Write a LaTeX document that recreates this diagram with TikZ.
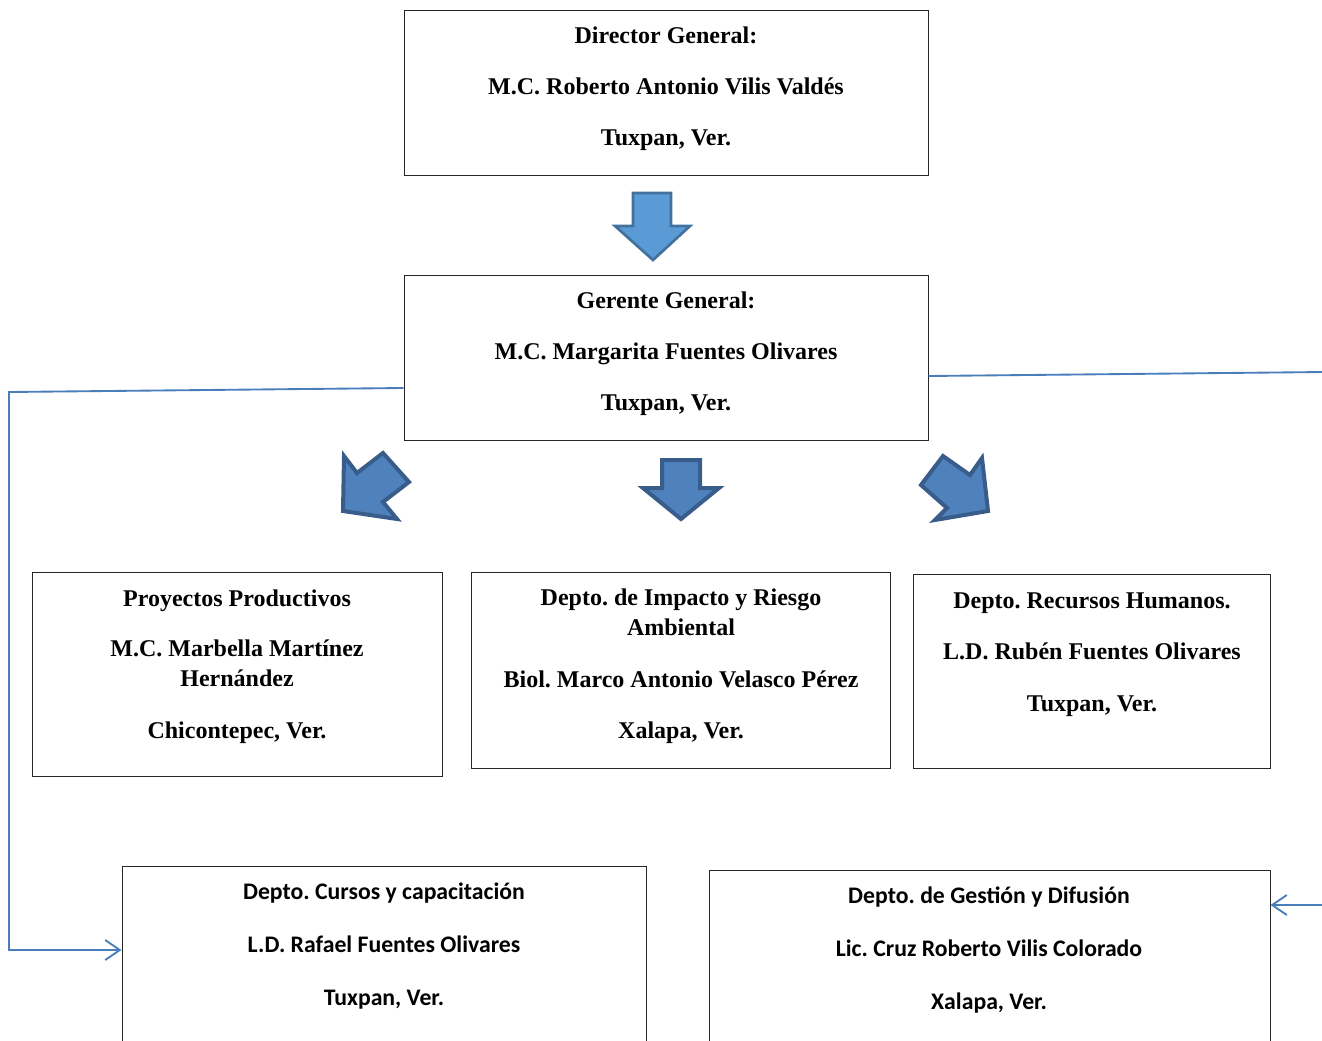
\documentclass[tikz,border=0pt]{standalone}
\usepackage{fontspec}
\setmainfont{Liberation Serif}
\newfontfamily\calib{Carlito}
\usetikzlibrary{arrows.meta,fit}
\definecolor{lineblue}{HTML}{4A7EBB}
\definecolor{arrA}{HTML}{5B9BD5}
\definecolor{arrAb}{HTML}{41719C}
\definecolor{arrB}{HTML}{4F81BD}
\definecolor{arrBb}{HTML}{385D8A}
\frenchspacing
\begin{document}
\begin{tikzpicture}[x=0.75pt,y=-0.75pt,
  box/.style={draw=black!85, line width=0.75pt, inner sep=0pt},
  stxt/.style={font=\fontsize{18}{20}\selectfont\bfseries, inner sep=0pt, anchor=base},
  ctxt/.style={font=\calib\fontsize{17.8}{20}\selectfont\bfseries, inner sep=0pt, anchor=base},
  conn/.style={draw=lineblue, line width=1.4pt},
  tip/.style={-{Straight Barb[length=11pt,width=15pt,line width=1.4pt]}},
  barA/.style={fill=arrA, draw=arrAb, line width=2pt, line join=miter},
  barB/.style={fill=arrB, draw=arrBb, line width=3pt, line join=miter}]
\useasboundingbox (0,0) rectangle (1322,1040);
\clip (0,0) rectangle (1322,1040);

% boxes
\node[box, fit={(404,10) (928,175)}] (dir) {};
\node[box, fit={(404,275) (928,440)}] (ger) {};
\node[box, fit={(32,572) (442,776)}] (pro) {};
\node[box, fit={(471,572) (890,768)}] (imp) {};
\node[box, fit={(913,574) (1270,768)}] (rh) {};
\node[box, fit={(122,866) (646,1060)}] (cur) {};
\node[box, fit={(709,870) (1270,1060)}] (ges) {};

% texts
\node[stxt] (t1) at (666,43) {Director General:};
\node[stxt] (t2) at (666,94) {M.C. Roberto Antonio Vilis Valdés};
\node[stxt] (t3) at (666,145) {Tuxpan, Ver.};
\node[stxt] (t4) at (666,308) {Gerente General:};
\node[stxt] (t5) at (666,359) {M.C. Margarita Fuentes Olivares};
\node[stxt] (t6) at (666,410) {Tuxpan, Ver.};
\node[stxt] (t7) at (237,606) {Proyectos Productivos};
\node[stxt] (t8) at (237,656) {M.C. Marbella Martínez};
\node[stxt] (t9) at (237,686) {Hernández};
\node[stxt] (t10) at (237,738) {Chicontepec, Ver.};
\node[stxt] (t11) at (681,605) {Depto. de Impacto y Riesgo};
\node[stxt] (t12) at (681,635) {Ambiental};
\node[stxt] (t13) at (681,687) {Biol. Marco Antonio Velasco Pérez};
\node[stxt] (t14) at (681,738) {Xalapa, Ver.};
\node[stxt] (t15) at (1092,608) {Depto. Recursos Humanos.};
\node[stxt] (t16) at (1092,659) {L.D. Rubén Fuentes Olivares};
\node[stxt] (t17) at (1092,711) {Tuxpan, Ver.};
\node[ctxt] (t18) at (384,899) {Depto. Cursos y capacitación};
\node[ctxt] (t19) at (384,952) {L.D. Rafael Fuentes Olivares};
\node[ctxt] (t20) at (384,1005) {Tuxpan, Ver.};
\node[ctxt] (t21) at (989,903) {Depto. de Gestión y Difusión};
\node[ctxt] (t22) at (989,956) {Lic. Cruz Roberto Vilis Colorado};
\node[ctxt] (t23) at (989,1009) {Xalapa, Ver.};

% block arrows
\draw[barA] (633,193) -- (671,193) -- (671,226) -- (690,226) -- (653,260) -- (615,226) -- (633,226) -- cycle;
\draw[barB] (344,456) -- (357,473) -- (383,453) -- (409,482) -- (383,502) -- (397,519) -- (343,511) -- cycle;
\draw[barB] (662,460) -- (700,460) -- (700,488) -- (719,488) -- (681,519) -- (643,488) -- (662,488) -- cycle;
\draw[barB] (943,456) -- (970,475) -- (982,458) -- (988,511) -- (935,520) -- (947,508) -- (921,485) -- cycle;

% connectors
\coordinate (gl) at (ger.west |- 0,388);
\coordinate (gr) at (ger.east |- 0,376);
\coordinate (cl) at (cur.west |- 0,950);
\coordinate (gsr) at (ges.east |- 0,905);
\coordinate (rend) at (1324,372);
\coordinate (rstart) at (1324,905);
\draw[conn, tip] (gl) -- (9,392) -- (9,950) -- (cl);
\draw[conn] (gr) -- (rend);
\draw[conn, tip] (rstart) -- (gsr);
\end{tikzpicture}
\end{document}
